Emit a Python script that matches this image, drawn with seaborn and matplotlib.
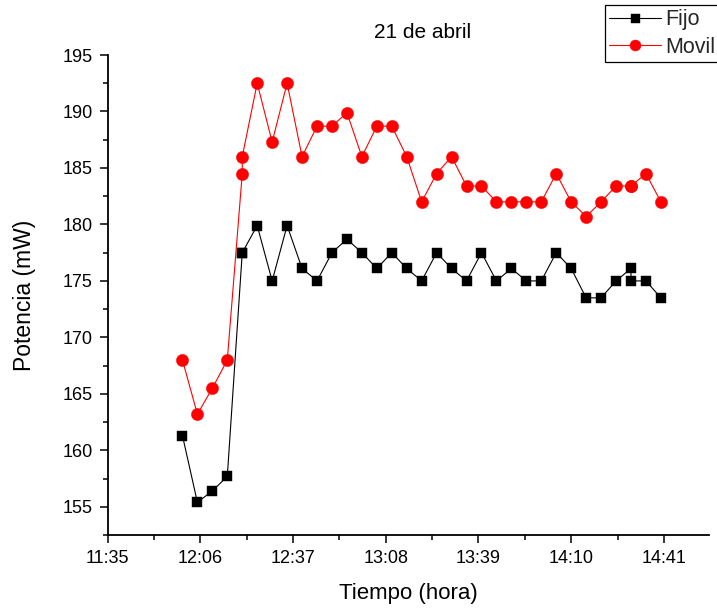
import matplotlib
matplotlib.use("Agg")
import matplotlib.pyplot as plt
from matplotlib.ticker import FixedLocator, MultipleLocator
import seaborn as sns
import pandas as pd

# Measurement times (hh:mm); two readings were logged at 12:20 and at 14:30
times = ["12:00", "12:05", "12:10", "12:15", "12:20", "12:20", "12:25", "12:30",
         "12:35", "12:40", "12:45", "12:50", "12:55", "13:00", "13:05", "13:10",
         "13:15", "13:20", "13:25", "13:30", "13:35", "13:40", "13:45", "13:50",
         "13:55", "14:00", "14:05", "14:10", "14:15", "14:20", "14:25", "14:30",
         "14:30", "14:35", "14:40"]

# Received power (mW)
fijo = [161.3, 155.4, 156.4, 157.7, 177.5, 177.5, 179.9, 175.0, 179.9, 176.1,
        175.0, 177.5, 178.7, 177.5, 176.1, 177.5, 176.1, 175.0, 177.5, 176.1,
        175.0, 177.5, 175.0, 176.1, 175.0, 175.0, 177.5, 176.1, 173.5, 173.5,
        175.0, 176.1, 175.0, 175.0, 173.5]
movil = [168.0, 163.2, 165.5, 168.0, 184.5, 186.0, 192.5, 187.3, 192.5, 186.0,
         188.7, 188.7, 189.9, 186.0, 188.7, 188.7, 186.0, 182.0, 184.5, 186.0,
         183.4, 183.4, 182.0, 182.0, 182.0, 182.0, 184.5, 182.0, 180.7, 182.0,
         183.4, 183.4, 183.4, 184.5, 182.0]

x_tick_labels = ["11:35", "12:06", "12:37", "13:08", "13:39", "14:10", "14:41"]
y_ticks = [155, 160, 165, 170, 175, 180, 185, 190, 195]


def to_minutes(hhmm):
    h, m = hhmm.split(":")
    return int(h) * 60 + int(m)


df = pd.DataFrame({"t": [to_minutes(t) for t in times],
                   "Fijo": fijo, "Movil": movil})

sns.set_theme(style="ticks")
plt.rcParams["font.family"] = ["Liberation Sans", "DejaVu Sans"]

fig = plt.figure(figsize=(7.17, 6.08), dpi=100)
ax = fig.add_axes([0.1502, 0.120, 0.8391, 0.7895])

sns.lineplot(data=df, x="t", y="Fijo", ax=ax, estimator=None, sort=False,
             color="black", linewidth=0.8, marker="s", markersize=7.2,
             markeredgecolor="black", markerfacecolor="black",
             markeredgewidth=0.3, label="Fijo")
sns.lineplot(data=df, x="t", y="Movil", ax=ax, estimator=None, sort=False,
             color="#ff0000", linewidth=0.8, marker="o", markersize=8.8,
             markeredgecolor="#ff0000", markerfacecolor="#ff0000",
             markeredgewidth=0.3, label="Movil")

# Axes limits and ticks
xt = [to_minutes(s) for s in x_tick_labels]
ax.set_xlim(xt[0], 896.2)
ax.set_ylim(152.5, 195)
ax.xaxis.set_major_locator(FixedLocator(xt))
ax.set_xticklabels(x_tick_labels)
step = xt[1] - xt[0]
ax.xaxis.set_minor_locator(FixedLocator([v + step / 2 for v in xt] + [xt[-1] + step * 1.5]))
ax.yaxis.set_major_locator(FixedLocator(y_ticks))
ax.yaxis.set_minor_locator(MultipleLocator(2.5))

ax.tick_params(axis="both", which="major", direction="out", length=6,
               width=1.1, labelsize=13, pad=5, colors="black")
ax.tick_params(axis="both", which="minor", direction="out", length=3.5,
               width=1.1, colors="black")

for side in ["top", "right"]:
    ax.spines[side].set_visible(False)
for side in ["left", "bottom"]:
    ax.spines[side].set_linewidth(1.3)
    ax.spines[side].set_color("black")

ax.set_xlabel("Tiempo (hora)", fontsize=16, labelpad=11, color="black")
ax.set_ylabel("Potencia (mW)", fontsize=16.5, labelpad=19, color="black")
ax.grid(False)

fig.text(423 / 717, 1 - 33 / 608, "21 de abril", fontsize=15,
         ha="center", va="center", color="black")

# Legend box runs past the right edge of the figure
leg = ax.legend(loc="upper left",
                bbox_to_anchor=(605 / 717, 1 - 60 / 608, 130 / 717, 55 / 608),
                bbox_transform=fig.transFigure, mode="expand",
                fontsize=15.5, frameon=True,
                fancybox=False, edgecolor="black", framealpha=1,
                handlelength=2.4, handletextpad=0.2, borderpad=0.2,
                labelspacing=0.3, borderaxespad=0, markerscale=0.9)
leg.get_frame().set_linewidth(0.9)

fig.savefig("out.png", dpi=100)
